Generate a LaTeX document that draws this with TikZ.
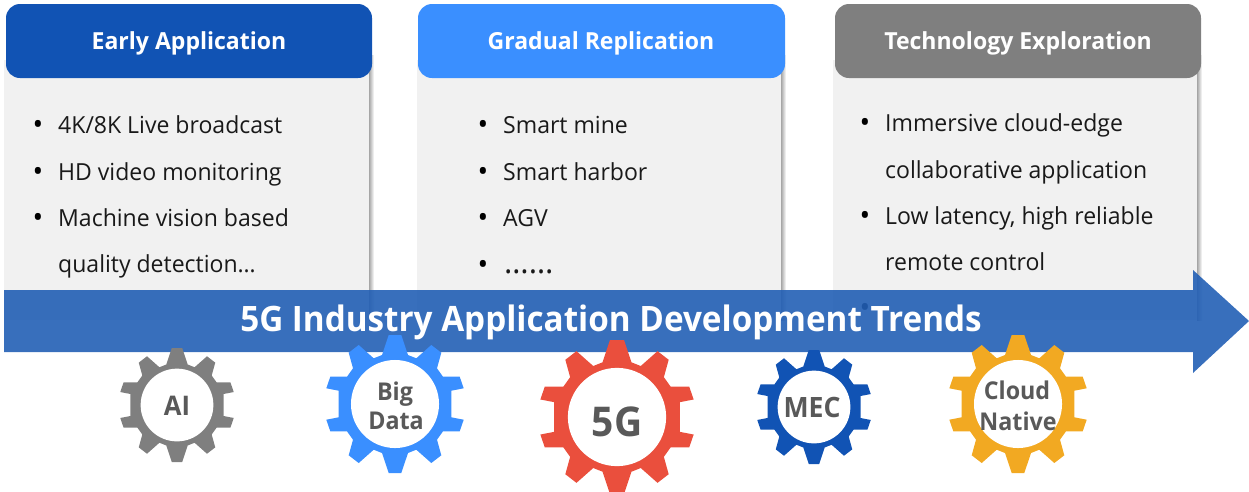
\documentclass[tikz,border=0pt]{standalone}
\usepackage{fontspec}
\setmainfont[FakeStretch=0.98]{Open Sans}
\newfontfamily\narrowfont[FakeStretch=0.95]{Open Sans}
\newcommand{\gearpath}{(6.3,-69)--(13,-49)--(21.3,-45.7)--(36.3,-59)--(46.3,-51.3)--(42,-35.7)--(48,-27.3)--(64.7,-27.3)--(68.7,-15.7)--(56.3,-13.3)--(56.3,13.3)--(68.7,15.7)--(64.7,27.3)--(48,27.3)--(42,35.7)--(46.3,51.3)--(36.3,59)--(21.3,45.7)--(13,49)--(6.3,69)--(-6.3,69)--(-13,49)--(-21.3,45.7)--(-36.3,59)--(-46.3,51.3)--(-42,35.7)--(-48,27.3)--(-64.7,27.3)--(-68.7,15.7)--(-56.3,13.3)--(-56.3,-13.3)--(-68.7,-15.7)--(-64.7,-27.3)--(-48,-27.3)--(-42,-35.7)--(-46.3,-51.3)--(-36.3,-59)--(-21.3,-45.7)--(-13,-49)--(-6.3,-69)--cycle}
\definecolor{deepblue}{HTML}{1153B4}
\definecolor{brightblue}{HTML}{3A8FFF}
\definecolor{midgray}{HTML}{7F7F7F}
\definecolor{cardgray}{HTML}{F1F1F1}
\definecolor{arrowblue}{HTML}{225FB5}
\definecolor{geartext}{HTML}{595959}
\definecolor{gearred}{HTML}{EA4F3D}
\definecolor{gearorange}{HTML}{F2A922}
\tikzset{
  x=1pt,y=-1pt,
  card/.style={fill=cardgray,draw=none},
  cardshadow/.style={left color=black!35,right color=white,draw=none},
  header/.style={rounded corners=14pt,draw=none},
  headtext/.style={text=white,font=\fontsize{23.5}{28}\selectfont\bfseries,anchor=base,inner sep=0pt},
  itemtext/.style={text=black!90,font=\fontsize{23.5}{28}\selectfont,anchor=base west,inner sep=0pt},
  bullettext/.style={text=black,font=\fontsize{29}{29}\selectfont,anchor=base,inner sep=0pt},
  gearhole/.style={circle,fill=white,draw=none,inner sep=0pt},
  geartxt/.style={text=geartext,anchor=base,inner sep=0pt,font=\narrowfont\fontsize{#1}{#1}\selectfont\bfseries},
}
\newcommand{\gearat}[5]{% x,y,R,color,name
  \fill[#4,shift={(#1,#2)},scale=#3/69] \gearpath;
  \node[gearhole,minimum size=1.276pt*#3] (#5) at (#1,#2) {};
}
\begin{document}
\begin{tikzpicture}
\useasboundingbox (0,0) rectangle (1249,491);
% cards
\fill[cardshadow] (369,55) rectangle (374,320);
\fill[cardshadow] (781,55) rectangle (786,320);
\fill[cardshadow] (1197,55) rectangle (1202,320);
\fill[card] (4,60) rectangle (369,320);
\fill[card] (417,60) rectangle (781,320);
\fill[card] (833,60) rectangle (1197,320);
% headers
\fill[header,deepblue] (6,4) rectangle (372,78);
\fill[header,brightblue] (418,4) rectangle (785,78);
\fill[header,midgray] (835,4) rectangle (1201,78);
\node[headtext] (h1) at (189,49) {Early Application};
\node[headtext] (h2) at (601,49) {Gradual Replication};
\node[headtext] (h3) at (1018,49) {Technology Exploration};
% items 1
\node[bullettext] (b1a) at (38,134) {•};
\node[itemtext] (t1a) at (58,133) {4K/8K Live broadcast};
\node[bullettext] (b1b) at (38,181) {•};
\node[itemtext] (t1b) at (58,180) {HD video monitoring};
\node[bullettext] (b1c) at (38,227) {•};
\node[itemtext] (t1c) at (58,226) {Machine vision based};
\node[itemtext] (t1d) at (58,272) {quality detection…};
% items 2
\node[bullettext] (b2a) at (483,134) {•};
\node[itemtext] (t2a) at (503,133) {Smart mine};
\node[bullettext] (b2b) at (483,181) {•};
\node[itemtext] (t2b) at (503,180) {Smart harbor};
\node[bullettext] (b2c) at (483,227) {•};
\node[itemtext] (t2c) at (503,226) {AGV};
\node[bullettext] (b2d) at (483,274) {•};
\node[itemtext,font=\fontsize{32}{32}\selectfont] (t2d) at (504,273) {……};
% items 3
\node[bullettext] (b3a) at (865,132) {•};
\node[itemtext] (t3a) at (885,131) {Immersive cloud-edge};
\node[itemtext] (t3b) at (885,178) {collaborative application};
\node[bullettext] (b3c) at (865,225) {•};
\node[itemtext] (t3c) at (885,224) {Low latency, high reliable};
\node[itemtext] (t3d) at (885,270) {remote control};
\node[bullettext] (b3e) at (865,317) {•};
% arrow
\fill[arrowblue,fill opacity=.9] (4,290) -- (1193,290) -- (1193,270) -- (1249,321) -- (1193,373) -- (1193,352) -- (4,352) -- cycle;
\node[text=white,anchor=base,inner sep=0pt,font=\narrowfont\fontsize{35}{40}\selectfont\bfseries] (title) at (611,331) {5G Industry Application Development Trends};
% gears
\gearat{177}{405}{57}{midgray}{gai}
\gearat{395}{404}{69}{brightblue}{gbig}
\gearat{617}{417}{77}{gearred}{gfive}
\gearat{814}{407}{57}{deepblue}{gmec}
\gearat{1018}{404}{69}{gearorange}{gcloud}
\node[geartxt=27] (lai) at (177,415) {AI};
\node[geartxt=24.5] (lbig) at (395,400) {Big};
\node[geartxt=24.5] (ldata) at (396,429) {Data};
\node[geartxt=41] (lfive) at (617,436) {5G};
\node[geartxt=28] (lmec) at (812,417) {MEC};
\node[geartxt=24.5] (lcloud) at (1017,399) {Cloud};
\node[geartxt=24.5] (lnative) at (1018,430) {Native};
\end{tikzpicture}
\end{document}
